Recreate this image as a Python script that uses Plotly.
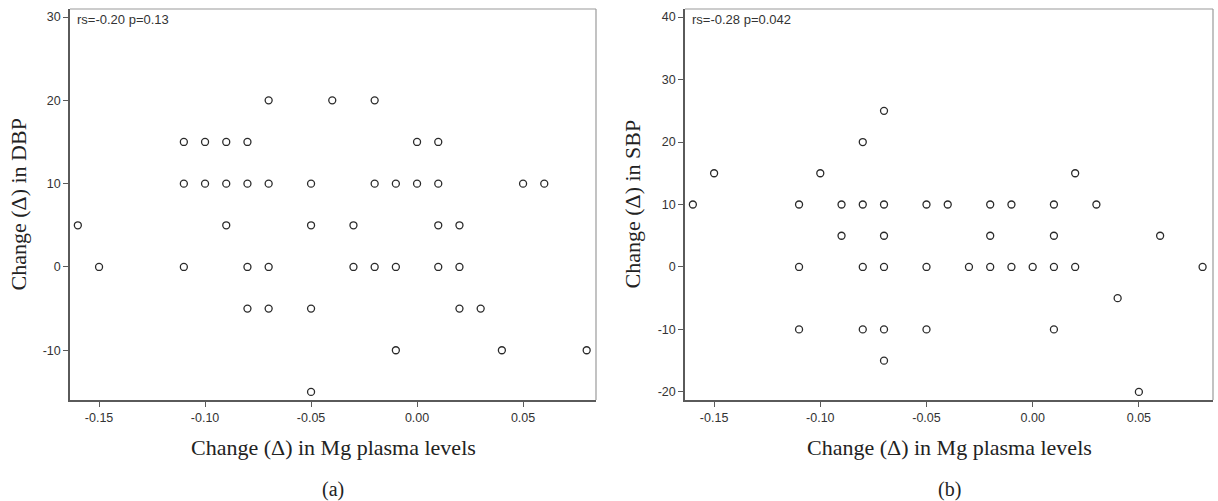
import plotly.graph_objects as go

# Panel (a): change in Mg vs change in DBP
dbp_mg = [-0.07, -0.04, -0.02,
          -0.11, -0.10, -0.09, -0.08, 0.00, 0.01,
          -0.11, -0.10, -0.09, -0.08, -0.07, -0.05, -0.02, -0.01, 0.00, 0.01, 0.05, 0.06,
          -0.16, -0.09, -0.05, -0.03, 0.01, 0.02,
          -0.15, -0.11, -0.08, -0.07, -0.03, -0.02, -0.01, 0.01, 0.02,
          -0.08, -0.07, -0.05, 0.02, 0.03,
          -0.01, 0.04, 0.08,
          -0.05]
dbp_change = [20, 20, 20,
              15, 15, 15, 15, 15, 15,
              10, 10, 10, 10, 10, 10, 10, 10, 10, 10, 10, 10,
              5, 5, 5, 5, 5, 5,
              0, 0, 0, 0, 0, 0, 0, 0, 0,
              -5, -5, -5, -5, -5,
              -10, -10, -10,
              -15]

# Panel (b): change in Mg vs change in SBP
sbp_mg = [-0.07,
          -0.08,
          -0.15, -0.10, 0.02,
          -0.16, -0.11, -0.09, -0.08, -0.07, -0.05, -0.04, -0.02, -0.01, 0.01, 0.03,
          -0.09, -0.07, -0.02, 0.01, 0.06,
          -0.11, -0.08, -0.07, -0.05, -0.03, -0.02, -0.01, 0.00, 0.01, 0.02, 0.08,
          0.04,
          -0.11, -0.08, -0.07, -0.05, 0.01,
          -0.07,
          0.05]
sbp_change = [25,
              20,
              15, 15, 15,
              10, 10, 10, 10, 10, 10, 10, 10, 10, 10, 10,
              5, 5, 5, 5, 5,
              0, 0, 0, 0, 0, 0, 0, 0, 0, 0, 0,
              -5,
              -10, -10, -10, -10, -10,
              -15,
              -20]

x_ticks = [-0.15, -0.10, -0.05, 0.00, 0.05]
x_tick_labels = ["-0.15", "-0.10", "-0.05", "0.00", "0.05"]
dbp_ticks = [-10, 0, 10, 20, 30]
dbp_tick_labels = ["-10", "0", "10", "20", "30"]
sbp_ticks = [-20, -10, 0, 10, 20, 30, 40]
sbp_tick_labels = ["-20", "-10", "0", "10", "20", "30", "40"]

stats_a = "rs=-0.20 p=0.13"
stats_b = "rs=-0.28 p=0.042"
xlabel = "Change (Δ) in Mg plasma levels"
ylabel_a = "Change (Δ) in DBP"
ylabel_b = "Change (Δ) in SBP"

W, H = 1218, 501
serif = "Liberation Serif, Times New Roman, serif"
sans = "Liberation Sans, Arial, sans-serif"

marker = dict(symbol="circle-open", size=7, color="#2a2a2a", line=dict(width=1.3, color="#2a2a2a"))

fig = go.Figure()
fig.add_trace(go.Scatter(x=dbp_mg, y=dbp_change, mode="markers", marker=marker,
                         xaxis="x", yaxis="y", showlegend=False))
fig.add_trace(go.Scatter(x=sbp_mg, y=sbp_change, mode="markers", marker=marker,
                         xaxis="x2", yaxis="y2", showlegend=False))

# pixel geometry
pa = (70, 596)
pb = (685, 1213)
ytop, ybot = 9, 400
ydom = [1 - ybot / H, 1 - ytop / H]

axis_common = dict(showgrid=False, zeroline=False, showline=True, linecolor="#5a5a5a",
                   linewidth=1.5, ticks="outside", ticklen=5, tickcolor="#5a5a5a",
                   tickwidth=1, tickfont=dict(family=sans, size=12.5, color="#333333"))

fig.update_layout(
    width=W, height=H,
    margin=dict(l=0, r=0, t=0, b=0),
    paper_bgcolor="white", plot_bgcolor="white",
    xaxis=dict(domain=[pa[0] / W, pa[1] / W], range=[-0.1637, 0.0844],
               tickvals=x_ticks, ticktext=x_tick_labels, anchor="y", **axis_common),
    yaxis=dict(domain=ydom, range=[-15.97, 30.96], tickvals=dbp_ticks,
               ticktext=dbp_tick_labels, anchor="x", **axis_common),
    xaxis2=dict(domain=[pb[0] / W, pb[1] / W], range=[-0.1637, 0.0849],
                tickvals=x_ticks, ticktext=x_tick_labels, anchor="y2", **axis_common),
    yaxis2=dict(domain=ydom, range=[-21.3, 41.3], tickvals=sbp_ticks,
                ticktext=sbp_tick_labels, anchor="x2", **axis_common),
)

# lighter top/right frame
for xr, yr in (("x domain", "y domain"), ("x2 domain", "y2 domain")):
    fig.add_shape(type="line", xref=xr, yref=yr, x0=0, x1=1, y0=1, y1=1,
                  line=dict(color="#9a9a9a", width=1.2), layer="below")
    fig.add_shape(type="line", xref=xr, yref=yr, x0=1, x1=1, y0=0, y1=1,
                  line=dict(color="#9a9a9a", width=1.2), layer="below")

def px(x):
    return x / W

def py(y):
    return 1 - y / H

ann = []
for (l, r), stats, ylab, tag, ytx in ((pa, stats_a, ylabel_a, "(a)", 18),
                                     (pb, stats_b, ylabel_b, "(b)", 632)):
    cx = (l + r) / 2
    ann.append(dict(x=px(l + 5), y=py(19), xref="paper", yref="paper", text=stats,
                    showarrow=False, xanchor="left", yanchor="middle",
                    font=dict(family=sans, size=13, color="#333333")))
    ann.append(dict(x=px(cx), y=py(447), xref="paper", yref="paper", text=xlabel,
                    showarrow=False, xanchor="center", yanchor="middle",
                    font=dict(family=serif, size=22, color="#222222")))
    ann.append(dict(x=px(cx), y=py(489), xref="paper", yref="paper", text=tag,
                    showarrow=False, xanchor="center", yanchor="middle",
                    font=dict(family=serif, size=20, color="#222222")))
    ann.append(dict(x=px(ytx), y=py((ytop + ybot) / 2), xref="paper", yref="paper",
                    text=ylab, textangle=-90, showarrow=False, xanchor="center",
                    yanchor="middle", font=dict(family=serif, size=22, color="#222222")))
fig.update_layout(annotations=ann)

fig.write_html("out.html", config={"displayModeBar": False},
               post_script="document.body.style.margin='0';document.body.style.overflow='hidden';")
